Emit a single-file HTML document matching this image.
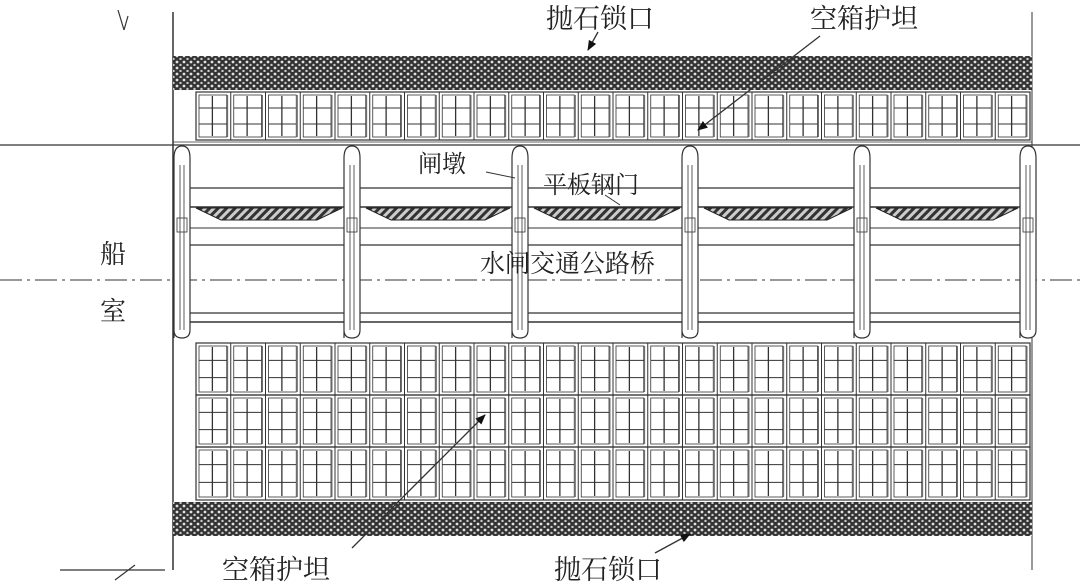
<!DOCTYPE html>
<html><head><meta charset="utf-8"><style>
html,body{margin:0;padding:0;background:#fff;}
svg{display:block;}
text{font-family:"Liberation Serif","Noto Serif CJK SC",serif;fill:#222;}
</style></head><body>
<svg id="s" width="1080" height="585" viewBox="0 0 1080 585" xmlns="http://www.w3.org/2000/svg">
<defs>
<pattern id="rock" width="7" height="6" patternUnits="userSpaceOnUse">
<rect width="7" height="6" fill="#333"/>
<circle cx="2" cy="2" r="1.4" fill="#e0e0e0"/>
<circle cx="5.5" cy="5" r="1.2" fill="#c8c8c8"/>
</pattern>
<pattern id="hatch" width="6" height="6" patternUnits="userSpaceOnUse" patternTransform="rotate(45)">
<rect width="6" height="6" fill="#ccc"/>
<rect width="3" height="6" fill="#333"/>
</pattern>
<marker id="ar" viewBox="0 0 10 10" refX="9" refY="5" markerWidth="8" markerHeight="8" orient="auto"><path d="M0,1 L10,5 L0,9 z" fill="#111"/></marker>
</defs>
<g id="g" stroke="#333" fill="none" stroke-width="1.2"></g>
<text x="546" y="28" font-size="27">抛石锁口</text>
<text x="810" y="28" font-size="27">空箱护坦</text>
<text x="418" y="172" font-size="24">闸墩</text>
<text x="543" y="193" font-size="24">平板钢门</text>
<text x="480" y="272" font-size="25">水闸交通公路桥</text>
<text x="100" y="263" font-size="26">船</text>
<text x="100" y="320" font-size="26">室</text>
<text x="222" y="579" font-size="27">空箱护坦</text>
<text x="554" y="579" font-size="27">抛石锁口</text>
</svg>
<script>
var g=document.getElementById('g'),h='';
function L(x1,y1,x2,y2,w,extra){h+='<line x1="'+x1+'" y1="'+y1+'" x2="'+x2+'" y2="'+y2+'"'+(w?' stroke-width="'+w+'"':'')+(extra||'')+'/>';}
function R(x,y,w,hh,f,extra){h+='<rect x="'+x+'" y="'+y+'" width="'+w+'" height="'+hh+'"'+(f?' fill="'+f+'" stroke="none"':'')+(extra||'')+'/>';}
L(173,12,173,570,1.5);L(1032,12,1032,570,1);
L(118,10,124,30);L(124,30,128,16);
L(60,570,165,570);L(115,580,135,565);
R(173,56,859,34,'url(#rock)');R(173,502,859,34,'url(#rock)');
function cells(y0,y1){
 var n=24,x0=196,x1=1030,w=(x1-x0)/n;
 R(x0,y0,x1-x0,y1-y0);
 for(var i=0;i<n;i++){var x=x0+i*w;
  L(x,y0,x,y1,1);L(x+w-3,y0+3,x+w-3,y1-3,0.7);
  var cx=x+w/2-1;
  L(cx,y0+4,cx,y1-4,1.3);
  var hh=y1-y0;
  L(x+3,y0+hh/3,x+w-4,y0+hh/3,1);
  L(x+3,y0+2*hh/3,x+w-4,y0+2*hh/3,1);
  R(x+3,y0+3,w-7,hh-6,null,' stroke-width="0.8"');
 }}
cells(92,140);
cells(343,395);cells(395,447);cells(447,500);
L(173,142,1032,142,0.8);
L(0,145,1080,145,1.2);
L(173,188,1032,188,1.2);
L(173,207,1032,207,1.6);
L(173,228,1032,228,1);
L(173,245,1032,245,1.2);
L(0,280,1080,280,1,' stroke-dasharray="22,5,3,5"');
L(173,313,1032,313,1.2);
L(173,322,1032,322,1.6);
var piers=[182,352,520,690,862,1028];
for(var i=0;i<5;i++){var a=piers[i]+14,b=piers[i+1]-10;
 h+='<path d="M'+a+',208 L'+(a+25)+',220 L'+(b-25)+',220 L'+b+',208 Z" fill="url(#hatch)" stroke="#222" stroke-width="1"/>';}
for(var i=0;i<piers.length;i++){var x=piers[i];
 h+='<path d="M'+(x-8)+',338 L'+(x-8)+',158 Q'+(x-8)+',146 '+x+',146 Q'+(x+8)+',146 '+(x+8)+',158 L'+(x+8)+',330 Q'+(x+8)+',338 '+x+',338 Q'+(x-8)+',338 '+(x-8)+',330" fill="#fff" stroke="#333" stroke-width="1.2"/>';
 L(x-2,165,x-2,330,0.8);L(x+2,165,x+2,330,0.8);
 R(x-5,218,10,14,null,' stroke-width="0.8"');
}
L(598,32,588,50,1.3,' marker-end="url(#ar)"');
L(820,36,698,130,1.3,' marker-end="url(#ar)"');
L(486,172,515,178,1);
L(605,195,620,205,1);
L(352,548,485,415,1.3,' marker-end="url(#ar)"');
L(655,553,690,534,1.3,' marker-end="url(#ar)"');
g.innerHTML=h;
</script>
</body></html>
